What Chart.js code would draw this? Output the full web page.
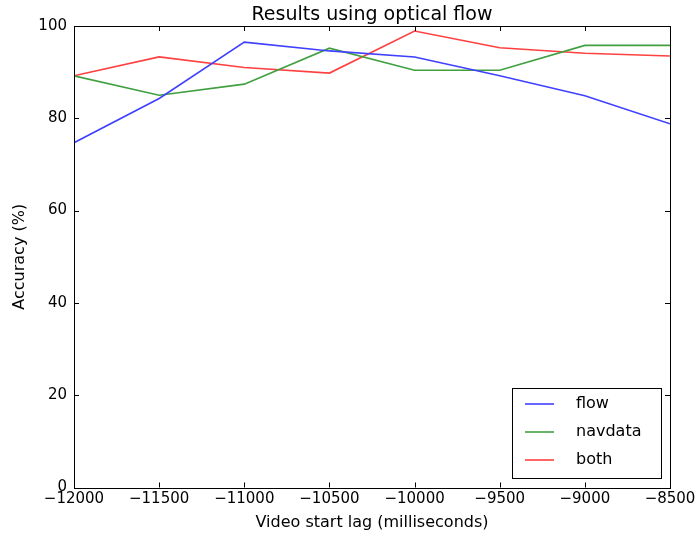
<!DOCTYPE html>
<html>
<head>
<meta charset="utf-8">
<script src="https://cdn.jsdelivr.net/npm/chart.js@4/dist/chart.umd.min.js"></script>
<style>
  html, body { margin: 0; padding: 0; background: #fff; }
  #wrap { width: 699px; height: 536px; }
</style>
</head>
<body>
<div id="wrap"><canvas id="c" width="699" height="536"></canvas></div>
<script>
const lags = [-12000, -11500, -11000, -10500, -10000, -9500, -9000, -8500];
const flow = [74.7, 84.3, 96.5, 94.6, 93.3, 89.2, 84.9, 78.8];
const navdata = [89.2, 85.0, 87.4, 95.2, 90.4, 90.4, 95.8, 95.8];
const both = [89.2, 93.3, 91.0, 89.8, 98.9, 95.3, 94.1, 93.5];
const xTicks = [-12000, -11500, -11000, -10500, -10000, -9500, -9000, -8500];
const yTicks = [0, 20, 40, 60, 80, 100];
const seriesNames = ['flow', 'navdata', 'both'];
const chartTitle = 'Results using optical flow';

const FONT = 'DejaVu Sans';
const minus = v => String(v).replace('-', '\u2212');
const pts = arr => lags.map((x, i) => ({ x: x, y: arr[i] }));

const framePlugin = {
  id: 'frame',
  afterDatasetsDraw(chart) {
    const { ctx, chartArea: a, scales } = chart;
    ctx.save();
    ctx.strokeStyle = '#000';
    ctx.lineWidth = 1;
    ctx.beginPath();
    const L = 5;
    xTicks.forEach(v => {
      const px = Math.round(scales.x.getPixelForValue(v)) + 0.5;
      ctx.moveTo(px, a.bottom); ctx.lineTo(px, a.bottom - L);
      ctx.moveTo(px, a.top); ctx.lineTo(px, a.top + L);
    });
    yTicks.forEach(v => {
      const py = Math.round(scales.y.getPixelForValue(v)) + 0.5;
      ctx.moveTo(a.left, py); ctx.lineTo(a.left + L, py);
      ctx.moveTo(a.right, py); ctx.lineTo(a.right - L, py);
    });
    ctx.stroke();
    ctx.strokeRect(Math.round(a.left) + 0.5, Math.round(a.top) + 0.5,
                   Math.round(a.right - a.left), Math.round(a.bottom - a.top));
    // title centred over plot area
    ctx.fillStyle = '#000';
    ctx.font = '19px "' + FONT + '"';
    ctx.textAlign = 'center';
    ctx.textBaseline = 'alphabetic';
    ctx.fillText(chartTitle, (a.left + a.right) / 2, 19.5);
    // legend
    const bx = 512.5, by = 388.5, bw = 149, bh = 90;
    ctx.fillStyle = '#fff';
    ctx.fillRect(bx, by, bw, bh);
    ctx.strokeStyle = '#000';
    ctx.strokeRect(bx, by, bw, bh);
    ctx.font = '16px "' + FONT + '"';
    ctx.textBaseline = 'middle';
    ctx.textAlign = 'left';
    chart.data.datasets.forEach((ds, i) => {
      const y = 404 + i * 28;
      ctx.strokeStyle = ds.borderColor;
      ctx.lineWidth = 1.6;
      ctx.beginPath();
      ctx.moveTo(525, y); ctx.lineTo(554, y);
      ctx.stroke();
      ctx.fillStyle = '#000';
      ctx.fillText(ds.label, 576, y);
    });
    ctx.restore();
  }
};

new Chart(document.getElementById('c'), {
  type: 'line',
  data: {
    datasets: [
      { label: seriesNames[0], data: pts(flow), borderColor: '#4040ff' },
      { label: seriesNames[1], data: pts(navdata), borderColor: '#40a040' },
      { label: seriesNames[2], data: pts(both), borderColor: '#ff4040' }
    ].map(d => Object.assign(d, { borderWidth: 1.6, pointRadius: 0, tension: 0, fill: false }))
  },
  options: {
    responsive: false,
    animation: false,
    layout: { padding: { left: 0, right: 29, top: 26, bottom: 0 } },
    plugins: {
      legend: { display: false },
      tooltip: { enabled: false },
      title: { display: false }
    },
    scales: {
      x: {
        type: 'linear',
        min: -12000, max: -8500,
        afterBuildTicks: s => { s.ticks = xTicks.map(v => ({ value: v })); },
        afterFit: s => { s.height = 48.5; },
        grid: { display: false, drawTicks: false },
        border: { display: false },
        ticks: {
          color: '#000', padding: 3, maxRotation: 0, autoSkip: false,
          font: { family: FONT, size: 15 },
          callback: v => minus(v)
        },
        title: {
          display: true, text: 'Video start lag (milliseconds)', color: '#000',
          font: { family: FONT, size: 16 }, padding: { top: 0, bottom: 4 }
        }
      },
      y: {
        min: 0, max: 100,
        afterBuildTicks: s => { s.ticks = yTicks.map(v => ({ value: v })); },
        afterFit: s => { s.width = 74; },
        grid: { display: false, drawTicks: false },
        border: { display: false },
        ticks: {
          color: '#000', padding: 7, autoSkip: false,
          font: { family: FONT, size: 15 },
          callback: v => minus(v)
        },
        title: {
          display: true, text: 'Accuracy (%)', color: '#000',
          font: { family: FONT, size: 16 }, padding: { top: 10, bottom: 0 }
        }
      }
    }
  },
  plugins: [framePlugin]
});
</script>
</body>
</html>
